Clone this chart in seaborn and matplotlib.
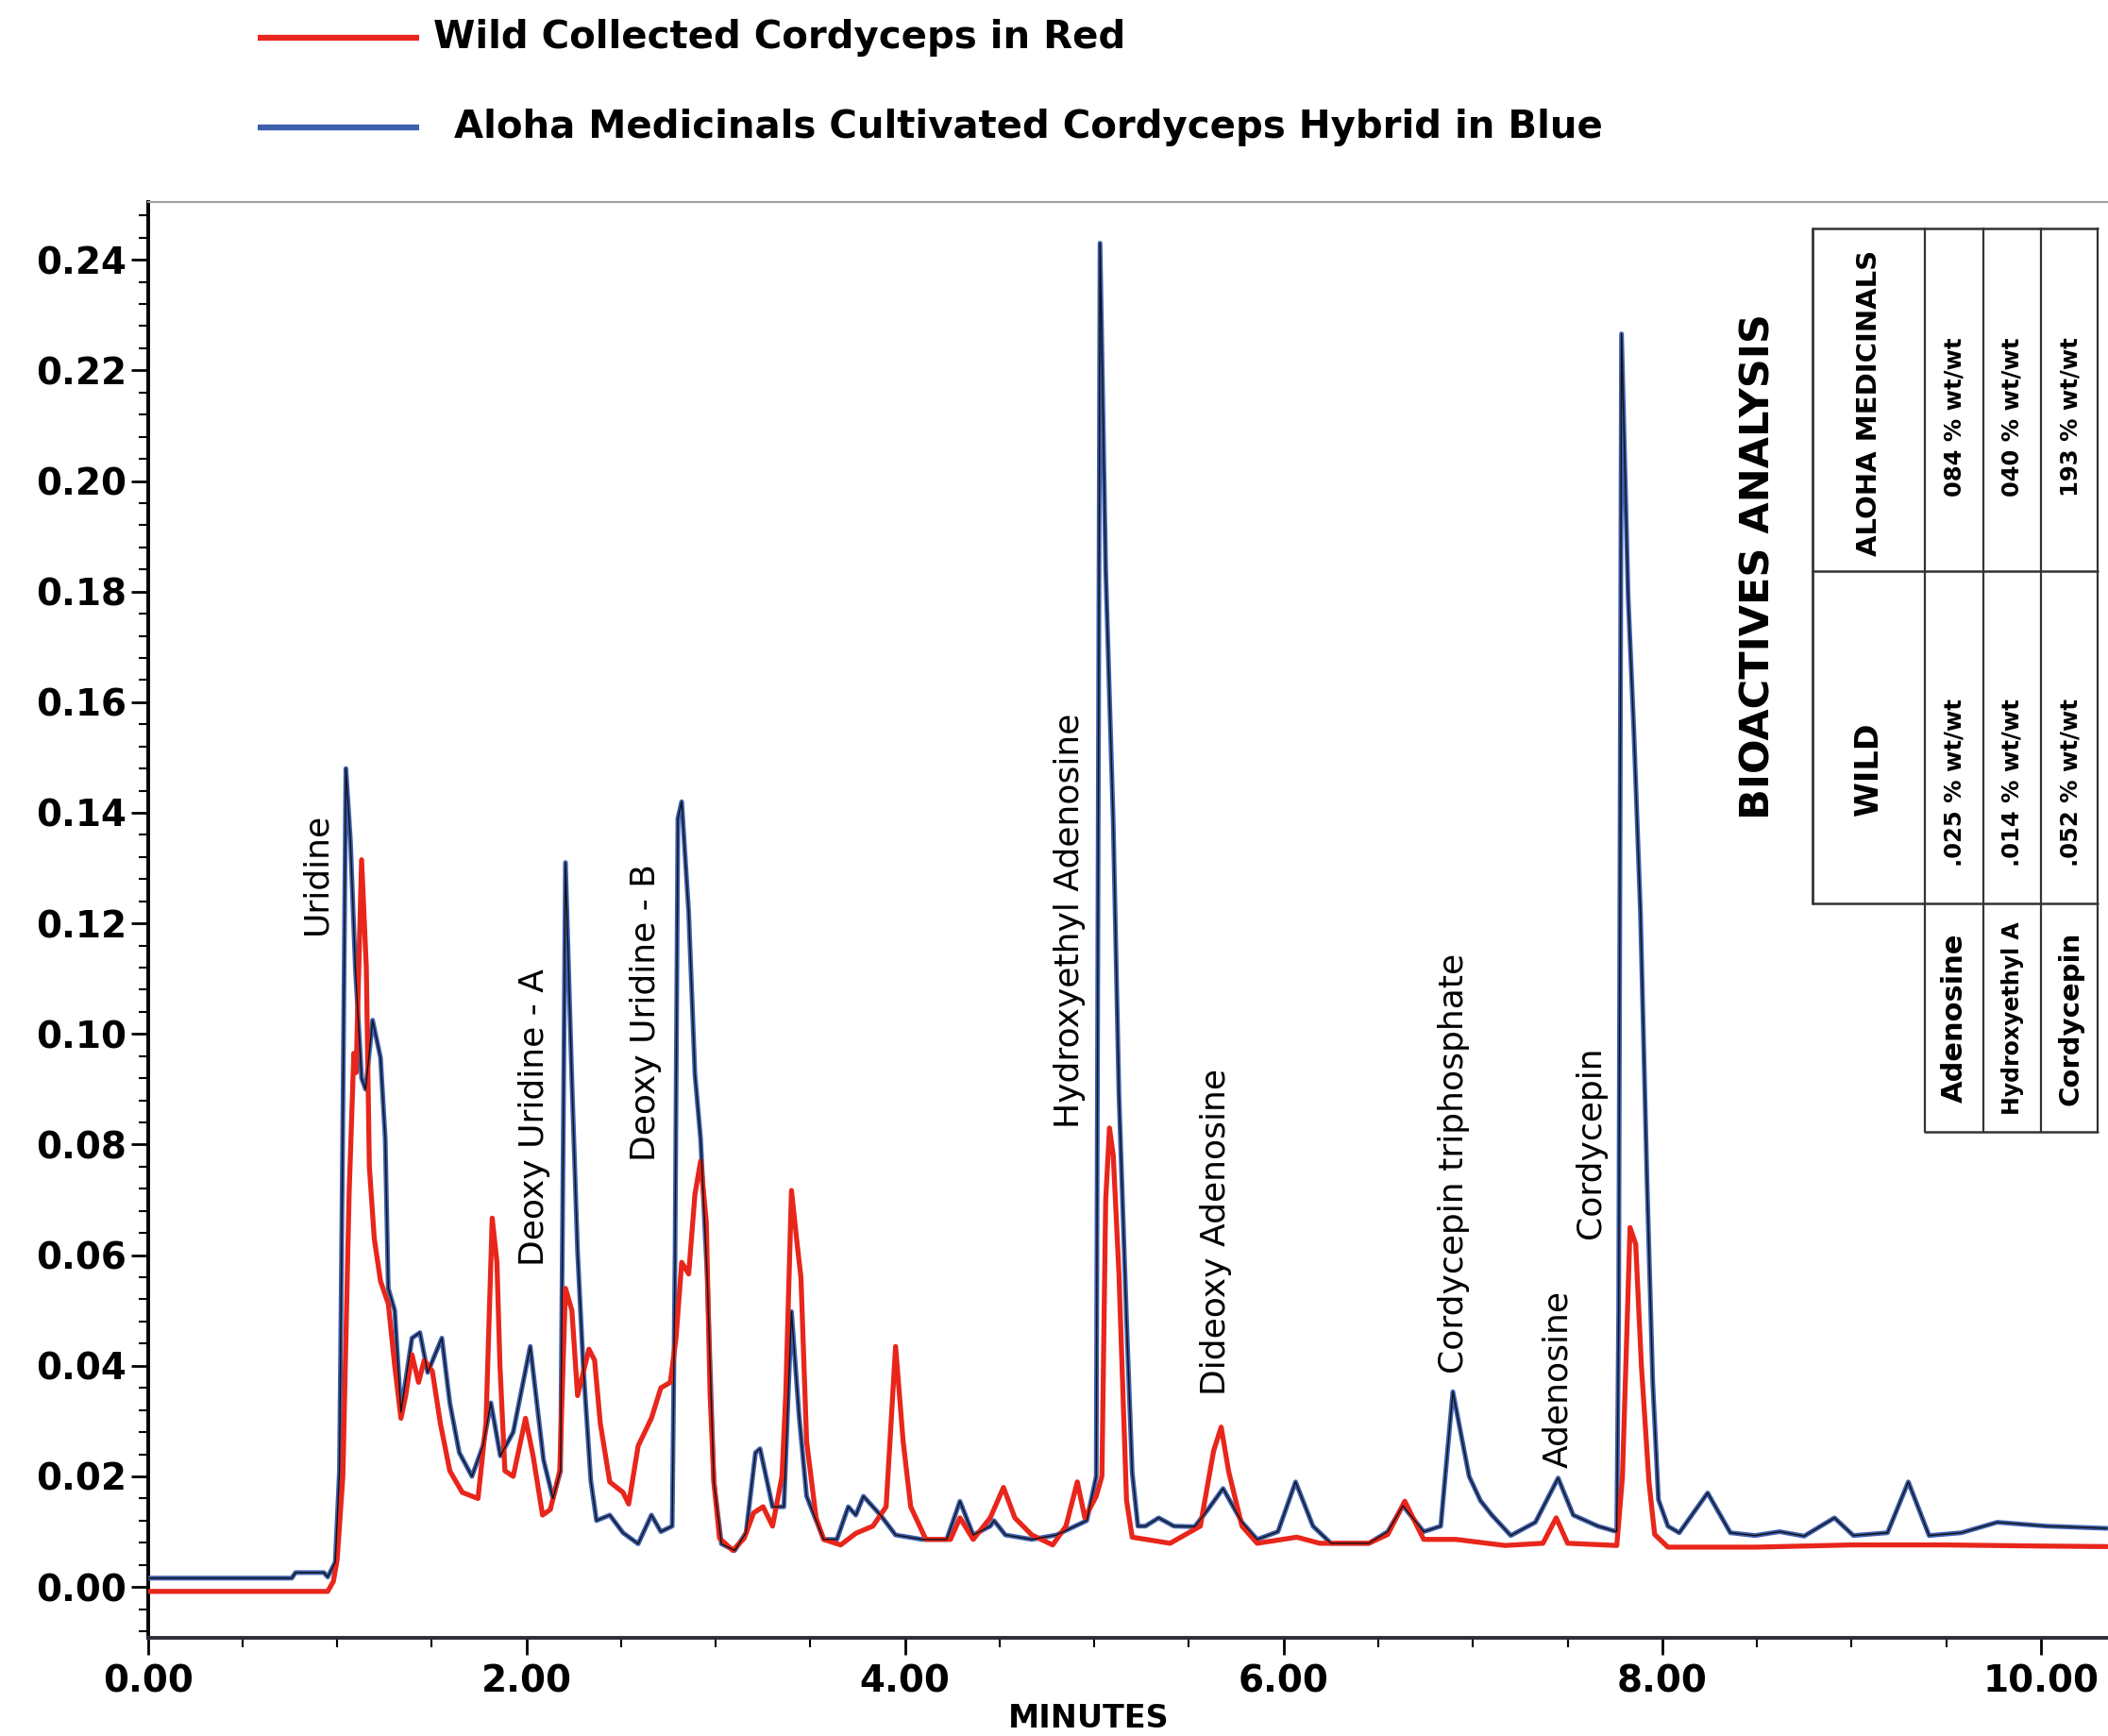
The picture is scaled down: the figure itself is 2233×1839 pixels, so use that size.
import numpy as np
import pandas as pd
import matplotlib
matplotlib.use("Agg")
import matplotlib.pyplot as plt
import seaborn as sns
from matplotlib.ticker import MultipleLocator, FormatStrFormatter

# retention time (minutes) and absorbance
cult_time = [0.00, 0.76, 0.78, 0.93, 0.95, 0.99, 1.012, 1.029, 1.046, 1.07, 1.096, 1.129, 1.15,
             1.187, 1.229, 1.254, 1.27, 1.304, 1.337, 1.395, 1.437, 1.478, 1.553, 1.595, 1.645,
             1.712, 1.77, 1.812, 1.862, 1.93, 2.02, 2.09, 2.14, 2.18, 2.206, 2.24, 2.27, 2.30,
             2.34, 2.37, 2.44, 2.51, 2.59, 2.66, 2.71, 2.77, 2.785, 2.80, 2.82, 2.857, 2.89,
             2.92, 2.955, 2.99, 3.03, 3.10, 3.16, 3.21, 3.234, 3.30, 3.36, 3.40, 3.44, 3.48,
             3.57, 3.64, 3.70, 3.74, 3.78, 3.87, 3.95, 4.09, 4.22, 4.29, 4.36, 4.45, 4.47,
             4.53, 4.67, 4.80, 4.96, 5.01, 5.03, 5.06, 5.10, 5.13, 5.17, 5.20, 5.23, 5.27,
             5.34, 5.42, 5.53, 5.60, 5.68, 5.78, 5.86, 5.97, 6.063, 6.155, 6.25, 6.45, 6.55,
             6.63, 6.74, 6.83, 6.894, 6.98, 7.04, 7.10, 7.20, 7.33, 7.45, 7.53, 7.66, 7.76,
             7.77, 7.785, 7.82, 7.85, 7.885, 7.92, 7.95, 7.98, 8.03, 8.09, 8.24, 8.36, 8.49,
             8.62, 8.75, 8.91, 9.01, 9.19, 9.30, 9.41, 9.58, 9.77, 10.03, 10.35]
cult_abs = [0.0016, 0.0016, 0.0026, 0.0026, 0.0018, 0.0045, 0.021, 0.081, 0.148, 0.135, 0.112,
            0.092, 0.090, 0.1025, 0.0957, 0.081, 0.054, 0.050, 0.0316, 0.045, 0.046, 0.0388,
            0.045, 0.0333, 0.0243, 0.020, 0.0255, 0.0333, 0.0237, 0.028, 0.0435, 0.023, 0.016,
            0.021, 0.131, 0.0915, 0.0606, 0.0399, 0.0192, 0.012, 0.013, 0.0098, 0.0078, 0.013,
            0.010, 0.011, 0.060, 0.139, 0.142, 0.122, 0.0927, 0.081, 0.056, 0.019, 0.0078,
            0.0066, 0.0098, 0.0243, 0.025, 0.0145, 0.0145, 0.0498, 0.031, 0.0164, 0.0086,
            0.0086, 0.0145, 0.013, 0.0164, 0.013, 0.0094, 0.0086, 0.0086, 0.0155, 0.0094,
            0.011, 0.012, 0.0094, 0.0086, 0.0094, 0.012, 0.020, 0.243, 0.184, 0.138, 0.089,
            0.0485, 0.0207, 0.011, 0.011, 0.0125, 0.011, 0.0109, 0.014, 0.0178, 0.0117, 0.0086,
            0.010, 0.019, 0.011, 0.0079, 0.0079, 0.010, 0.0147, 0.010, 0.011, 0.0353, 0.020,
            0.0156, 0.013, 0.0093, 0.0117, 0.0197, 0.013, 0.011, 0.010, 0.05, 0.2266, 0.179,
            0.155, 0.122, 0.073, 0.037, 0.0158, 0.011, 0.0098, 0.017, 0.0098, 0.0093, 0.010,
            0.0092, 0.0125, 0.0093, 0.0098, 0.019, 0.0093, 0.0098, 0.0117, 0.011, 0.0106]

wild_time = [0.00, 0.95, 0.98, 1.00, 1.03, 1.063, 1.088, 1.10, 1.129, 1.154, 1.17, 1.196, 1.229,
             1.27, 1.304, 1.337, 1.362, 1.395, 1.43, 1.46, 1.503, 1.545, 1.595, 1.661, 1.744,
             1.786, 1.819, 1.844, 1.86, 1.886, 1.93, 1.995, 2.035, 2.085, 2.126, 2.176, 2.206,
             2.24, 2.27, 2.33, 2.36, 2.39, 2.44, 2.51, 2.54, 2.59, 2.66, 2.71, 2.76, 2.79, 2.82,
             2.857, 2.89, 2.92, 2.95, 2.97, 2.99, 3.02, 3.09, 3.15, 3.20, 3.25, 3.30, 3.35,
             3.37, 3.40, 3.43, 3.45, 3.48, 3.53, 3.57, 3.66, 3.74, 3.83, 3.90, 3.95, 3.99,
             4.03, 4.11, 4.24, 4.29, 4.36, 4.45, 4.52, 4.58, 4.67, 4.78, 4.85, 4.91, 4.95,
             5.01, 5.04, 5.06, 5.08, 5.10, 5.13, 5.17, 5.20, 5.40, 5.56, 5.63, 5.67, 5.71,
             5.78, 5.86, 6.07, 6.19, 6.45, 6.55, 6.64, 6.74, 6.91, 7.17, 7.37, 7.44, 7.50,
             7.76, 7.79, 7.83, 7.86, 7.89, 7.93, 7.96, 8.03, 8.5, 9.0, 9.5, 10.0, 10.35]
wild_abs = [-0.0008, -0.0008, 0.001, 0.005, 0.02, 0.071, 0.0965, 0.093, 0.1315, 0.112, 0.076,
            0.063, 0.0553, 0.0512, 0.040, 0.0305, 0.0346, 0.042, 0.037, 0.041, 0.039, 0.0296,
            0.021, 0.0171, 0.016, 0.0296, 0.0667, 0.0587, 0.040, 0.021, 0.020, 0.0305, 0.0237,
            0.013, 0.014, 0.021, 0.054, 0.050, 0.0346, 0.043, 0.041, 0.0296, 0.019, 0.0171,
            0.015, 0.0255, 0.0305, 0.036, 0.037, 0.045, 0.0587, 0.0566, 0.071, 0.077, 0.066,
            0.035, 0.019, 0.0088, 0.0066, 0.0088, 0.0134, 0.0145, 0.011, 0.020, 0.035, 0.0717,
            0.062, 0.056, 0.0263, 0.0125, 0.0086, 0.0076, 0.0097, 0.011, 0.0145, 0.0435,
            0.0263, 0.0145, 0.0086, 0.0086, 0.0125, 0.0086, 0.0125, 0.018, 0.0125, 0.0094,
            0.0076, 0.011, 0.019, 0.0125, 0.0164, 0.02, 0.07, 0.083, 0.078, 0.0567, 0.0157,
            0.009, 0.0079, 0.011, 0.0246, 0.0289, 0.0208, 0.011, 0.0079, 0.009, 0.0079, 0.0079,
            0.0095, 0.0155, 0.0086, 0.0086, 0.0075, 0.0079, 0.0125, 0.0079, 0.0075, 0.02,
            0.065, 0.062, 0.040, 0.019, 0.0095, 0.0072, 0.0072, 0.0076, 0.0076, 0.0074, 0.0073]

# peak annotations: name, retention time, absorbance where the text starts
peak_names = ["Uridine", "Deoxy Uridine - A", "Deoxy Uridine - B", "Hydroxyethyl Adenosine",
              "Dideoxy Adenosine", "Cordycepin triphosphate", "Adenosine", "Cordycepin"]
peak_x = [0.89, 2.04, 2.63, 4.87, 5.64, 6.90, 7.45, 7.62]
peak_y = [0.118, 0.058, 0.077, 0.083, 0.0347, 0.0386, 0.0215, 0.063]

# bioactives table
table_compounds = ["Adenosine", "Hydroxyethyl A", "Cordycepin"]
table_wild = [".025 % wt/wt", ".014 % wt/wt", ".052 % wt/wt"]
table_aloha = ["084 % wt/wt", "040 % wt/wt", "193 % wt/wt"]

RED = "#e8261c"
BLUE = "#3d5fae"

sns.set_style("white")
plt.rcParams["font.family"] = ["DejaVu Sans"]
plt.rcParams["text.color"] = "black"
plt.rcParams["xtick.color"] = "black"
plt.rcParams["ytick.color"] = "black"

fig = plt.figure(figsize=(22.33, 18.39), dpi=100)
W, H = 1568.0, 1291.0   # layout grid of the reference
ax = fig.add_axes([110 / W, 1 - 1218 / H, 1 - 110 / W, (1218 - 150) / H])

cult = pd.DataFrame({"time": cult_time, "abs": cult_abs})
wild = pd.DataFrame({"time": wild_time, "abs": wild_abs})

sns.lineplot(data=cult, x="time", y="abs", color=BLUE, lw=3.6, sort=False,
             estimator=None, ax=ax, zorder=3)
sns.lineplot(data=wild, x="time", y="abs", color=RED, lw=3.8, sort=False,
             estimator=None, ax=ax, zorder=4)
sns.lineplot(data=cult, x="time", y="abs", color="#111111", lw=1.0, sort=False,
             estimator=None, ax=ax, zorder=5)

ax.set_xlim(0, 10.355)
ax.set_ylim(-0.0092, 0.2505)
ax.set_xlabel("")
ax.set_ylabel("")

ax.xaxis.set_major_locator(MultipleLocator(2))
ax.xaxis.set_minor_locator(MultipleLocator(0.5))
ax.yaxis.set_major_locator(MultipleLocator(0.02))
ax.yaxis.set_minor_locator(MultipleLocator(0.004))
ax.xaxis.set_major_formatter(FormatStrFormatter("%.2f"))
ax.yaxis.set_major_formatter(FormatStrFormatter("%.2f"))
ax.tick_params(axis="both", which="both", left=True, bottom=True, top=False, right=False)
ax.tick_params(axis="both", which="major", direction="out", length=13, width=2,
               labelsize=28, color="black", labelcolor="black")
ax.tick_params(axis="both", which="minor", direction="out", length=7, width=1.5, color="black")
ax.tick_params(axis="x", which="major", pad=7)
ax.tick_params(axis="y", which="major", pad=3)
for lab in ax.get_xticklabels() + ax.get_yticklabels():
    lab.set_fontweight("bold")

ax.spines["right"].set_visible(False)
ax.spines["top"].set_color("#a0a0a0")
ax.spines["top"].set_linewidth(1.5)
ax.spines["left"].set_linewidth(2.8)
ax.spines["left"].set_color("black")
ax.spines["bottom"].set_linewidth(2.8)
ax.spines["bottom"].set_color("#2d2d3a")

for name, x, y in zip(peak_names, peak_x, peak_y):
    ax.text(x, y, name, rotation=90, ha="center", va="bottom", fontsize=26, zorder=6)

fig.text(810 / W, 1 - 1278 / H, "MINUTES", ha="center", va="center",
         fontsize=24, fontweight="bold")

# overlay in reference layout units for the legend and the table
ov = fig.add_axes([0, 0, 1, 1], zorder=10)
ov.set_xlim(0, W)
ov.set_ylim(H, 0)
ov.axis("off")
ov.patch.set_alpha(0)

ov.plot([192, 312], [28, 28], color=RED, lw=4.5, solid_capstyle="butt")
ov.plot([192, 312], [95, 95], color=BLUE, lw=4.5, solid_capstyle="butt")
ov.text(322, 28, "Wild Collected Cordyceps in Red", ha="left", va="center",
        fontsize=29, fontweight="bold")
ov.text(338, 95, "Aloha Medicinals Cultivated Cordyceps Hybrid in Blue", ha="left",
        va="center", fontsize=29, fontweight="bold")

tcol = "#333333"
col_x = [1348, 1432, 1475, 1518, 1560]
ov.plot([1348, 1348], [170, 672], color=tcol, lw=2)
for cx in col_x[1:]:
    ov.plot([cx, cx], [170, 842], color=tcol, lw=1.6)
for ry in [170, 425, 672]:
    ov.plot([1348, 1560], [ry, ry], color=tcol, lw=1.8)
ov.plot([1432, 1560], [842, 842], color=tcol, lw=1.8)

ov.text(1308, 421, "BIOACTIVES ANALYSIS", rotation=90, ha="center", va="center",
        fontsize=31, fontweight="bold")
ov.text(1390, 300, "ALOHA MEDICINALS", rotation=90, ha="center", va="center",
        fontsize=21, fontweight="bold")
ov.text(1390, 572, "WILD", rotation=90, ha="center", va="center",
        fontsize=24, fontweight="bold")
cell_x = [1454, 1497, 1540]
label_sizes = [22, 17, 21]
for cx, comp, wv, av, fs in zip(cell_x, table_compounds, table_wild, table_aloha, label_sizes):
    ov.text(cx, 310, av, rotation=90, ha="center", va="center", fontsize=17.5, fontweight="bold")
    ov.text(cx, 582, wv, rotation=90, ha="center", va="center", fontsize=17.5, fontweight="bold")
    ov.text(cx, 757, comp, rotation=90, ha="center", va="center", fontsize=fs, fontweight="bold")

fig.savefig("out.png", dpi=100, facecolor="white")
